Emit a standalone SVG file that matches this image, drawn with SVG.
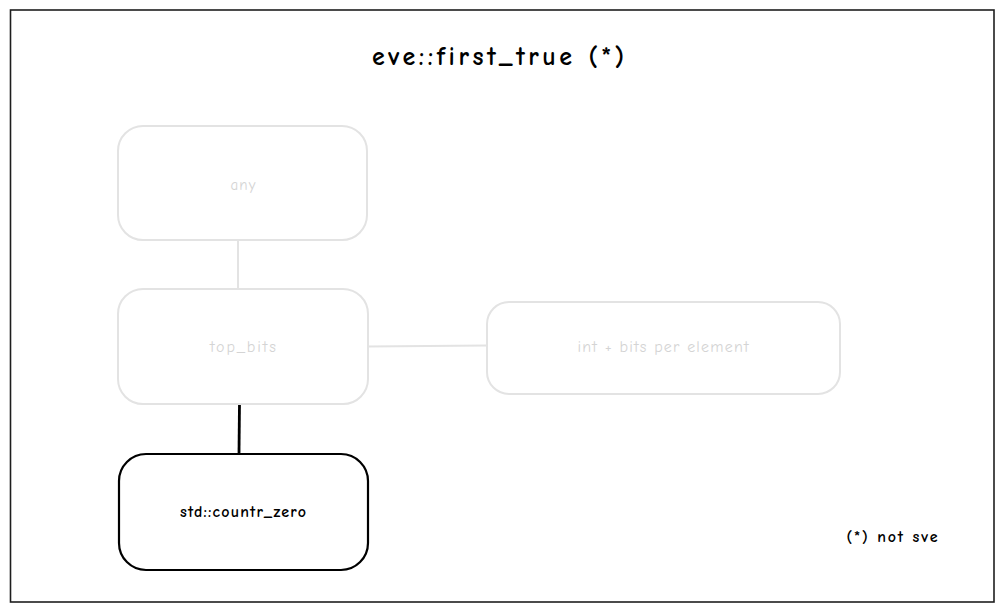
<svg xmlns="http://www.w3.org/2000/svg" width="1004" height="613" viewBox="0 0 1004 613">
<style>
.faded rect{fill:none;stroke:#e3e3e3;stroke-width:2}
.faded text{fill:#d4d4d4}
.t{font-family:"Comic Neue","Liberation Sans",sans-serif;text-anchor:middle;dominant-baseline:central}
.dark rect{fill:none;stroke:#000;stroke-width:2.2}
</style>
<rect x="0" y="0" width="1004" height="613" fill="#fff"/>
<g id="frame"><rect x="10.5" y="10" width="983.5" height="592" fill="none" stroke="#1e1e1e" stroke-width="1.6"/></g>
<g id="title"><text class="t" x="498" y="57" font-size="26" font-weight="700" textLength="252" fill="#000">eve::first_true (*)</text></g>
<g id="connectors">
<line x1="238" y1="240" x2="238" y2="288" stroke="#e3e3e3" stroke-width="2"/>
<line x1="368" y1="346.5" x2="487" y2="345.5" stroke="#e3e3e3" stroke-width="2"/>
<line x1="239.5" y1="403" x2="239" y2="453" stroke="#000" stroke-width="2.8"/>
</g>
<g id="node-any" class="faded"><rect x="118" y="126" width="249" height="114" rx="25"/><text class="t" x="243" y="185" font-size="15" textLength="25">any</text></g>
<g id="node-top_bits" class="faded"><rect x="118" y="289" width="250" height="115" rx="25"/><text class="t" x="243" y="347" font-size="16" textLength="66">top_bits</text></g>
<g id="node-int" class="faded"><rect x="487" y="302" width="353" height="92" rx="22"/><text class="t" x="663" y="347" font-size="16" textLength="171">int + bits per element</text></g>
<g id="node-countr" class="dark"><rect x="119" y="454" width="249" height="116" rx="27"/><text class="t" x="243" y="512" font-size="16" font-weight="700" textLength="126" fill="#000">std::countr_zero</text></g>
<g id="note"><text class="t" x="892" y="537" font-size="16" font-weight="700" textLength="91" fill="#000">(*) not sve</text></g>
</svg>
